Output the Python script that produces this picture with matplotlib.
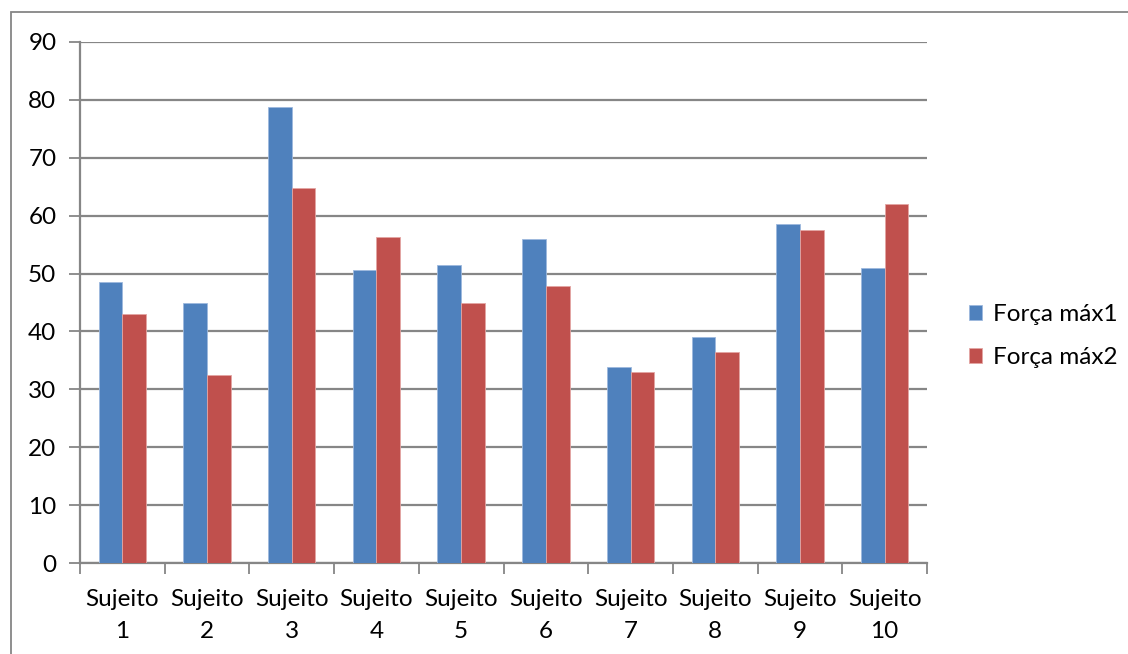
import numpy as np
import matplotlib
matplotlib.use("Agg")
import matplotlib.pyplot as plt
from matplotlib.patches import Rectangle

# subject labels and the two max-force trials
subjects = ["Sujeito\n1", "Sujeito\n2", "Sujeito\n3", "Sujeito\n4", "Sujeito\n5",
            "Sujeito\n6", "Sujeito\n7", "Sujeito\n8", "Sujeito\n9", "Sujeito\n10"]
forca_max1 = [48.5, 45.0, 78.7, 50.7, 51.5, 56.0, 33.8, 39.0, 58.5, 51.0]
forca_max2 = [43.0, 32.5, 64.8, 56.3, 45.0, 47.8, 33.0, 36.5, 57.5, 62.0]
series_names = ["Força máx1", "Força máx2"]

plt.rcParams['font.family'] = ['Lato', 'DejaVu Sans']
grid_col = "#868686"
fs = 17.5

fig = plt.figure(figsize=(11.28, 6.54), dpi=100)
ax = fig.add_axes([80 / 1128, 1 - 563 / 654, 847 / 1128, 521 / 654])

x = np.arange(len(subjects))
w = 0.28
ax.bar(x - w / 2, forca_max1, w, color="#4F81BD", edgecolor="#9DB9DE", linewidth=0.6,
       label=series_names[0], zorder=3)
ax.bar(x + w / 2, forca_max2, w, color="#C0504D", edgecolor="#E3A5A3", linewidth=0.6,
       label=series_names[1], zorder=3)

ax.set_xlim(-0.5, len(subjects) - 0.5)
ax.set_ylim(0, 90)
ax.set_yticks(range(0, 91, 10))
ax.yaxis.grid(True, color=grid_col, linewidth=1.6, zorder=0)

# category ticks sit on the boundaries, labels in the middle
ax.set_xticks(np.arange(-0.5, len(subjects)), minor=False)
ax.set_xticklabels([])
ax.set_xticks(x, minor=True)
ax.set_xticklabels(subjects, minor=True, fontsize=fs, linespacing=1.6)
ax.tick_params(axis="x", which="minor", length=0, pad=19)
ax.tick_params(axis="x", which="major", length=8, width=1.3, color=grid_col)
ax.tick_params(axis="y", length=8, width=1.3, color=grid_col, labelsize=fs, pad=9)

for side in ["top", "right"]:
    ax.spines[side].set_visible(False)
for side in ["left", "bottom"]:
    ax.spines[side].set_color(grid_col)
    ax.spines[side].set_linewidth(1.6)

fig.legend(loc="center left", bbox_to_anchor=(969 / 1128, 1 - 336 / 654), frameon=False,
           fontsize=fs, handlelength=0.55, handleheight=0.55, handletextpad=0.45,
           labelspacing=0.9, borderpad=0, borderaxespad=0)

# outer chart frame
fig.patches.append(Rectangle((11 / 1128, -0.1), 1.2, 1 - 12 / 654 + 0.1,
                             transform=fig.transFigure, fill=False,
                             edgecolor=grid_col, linewidth=1.3))

fig.savefig("out.png", dpi=100)
